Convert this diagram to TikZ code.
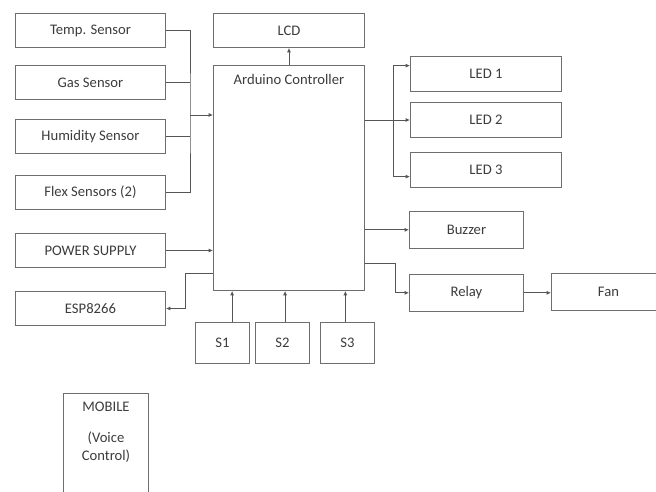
\documentclass[tikz,border=0pt]{standalone}
\usepackage{fontspec}
\setmainfont{Carlito}
\usepackage{xcolor}
\definecolor{cLine}{HTML}{555555}
\definecolor{cBox}{HTML}{6E6E6E}
\definecolor{cText}{HTML}{3C3C3C}
\usepackage{tikz}
\usetikzlibrary{positioning,arrows.meta}
\tikzset{
  box-text/.style={text=cText,font=\fontsize{12.5}{15}\selectfont},
  node-box/.style={draw=cBox,line width=0.8pt,anchor=north west,align=center,
    inner sep=0pt,box-text},
  node-side/.style={node-box,minimum width=4.5cm,minimum height=1.02cm},
  node-led/.style={node-box,minimum width=4.53cm,minimum height=1.05cm},
  node-out/.style={node-box,minimum width=3.42cm,minimum height=1.1cm},
  node-sw/.style={node-box,minimum width=1.62cm,minimum height=1.23cm},
  wire/.style={draw=cLine,line width=0.7pt},
  arrow/.style={wire,-{Latex[length=1.3mm,width=1.2mm]}},
}

\begin{document}
\begin{tikzpicture}[x=0.03cm,y=-0.03cm]
  \useasboundingbox (0,0) rectangle (656,491);
  % inputs
  \node[node-side] (temp) at (15,13) {Temp. Sensor};
  \node[node-side] (gas) at (15,65) {Gas Sensor};
  \node[node-side] (hum) at (15,119) {Humidity Sensor};
  \node[node-side] (flex) at (15,175) {Flex Sensors (2)};
  \node[node-side] (pwr) at (15,233) {POWER SUPPLY};
  \node[node-side] (esp) at (15,291) {ESP8266};
  % controller + display
  \node[node-box,minimum width=4.53cm,minimum height=1.02cm] (lcd) at (213,13) {LCD};
  \node[node-box,minimum width=4.53cm,minimum height=6.75cm,
    label={[anchor=north,yshift=-0.15cm,box-text]north:Arduino Controller}] (ard) at (213,65) {};
  % outputs
  \node[node-led] (led1) at (410,56) {LED 1};
  \node[node-led] (led2) at (410,102) {LED 2};
  \node[node-led] (led3) at (410,152) {LED 3};
  \node[node-out] (buz) at (409,211) {Buzzer};
  \node[node-out] (rel) at (409,274) {Relay};
  \node[node-out] (fan) at (551,273) {Fan};
  % switches
  \node[node-sw] (s1) at (195,322) {S1};
  \node[node-sw,right=0.15cm of s1] (s2) {S2};
  \node[node-sw,right=0.3cm of s2] (s3) {S3};
  % phone app
  \node[node-box,minimum width=2.55cm,minimum height=3.3cm,
    label={[anchor=north,yshift=-0.15cm,align=center,box-text]north:MOBILE\\[0.4cm](Voice\\Control)}] (mob) at (63,393) {};

  % sensor bus
  \coordinate (sbus) at (190,115);
  \draw[wire] (temp.east) -| (sbus) |- (flex.east);
  \draw[wire] (gas.east) -- (gas.east -| sbus);
  \draw[wire] (hum.east) -- (hum.east -| sbus);
  \draw[arrow] (sbus) -- (sbus -| ard.west);
  \draw[arrow] (pwr.east) -- (pwr.east -| ard.west);
  \coordinate (espout) at (ard.west |- 0,273);
  \draw[arrow] (espout) -- ++(-28,0) |- (esp.east);
  \draw[arrow] (ard.north) -- (lcd.south);

  % led bus
  \coordinate (lbus) at (393,120);
  \draw[wire] (lbus -| ard.east) -- (lbus);
  \draw[arrow] (lbus) -- (lbus -| led2.west);
  \draw[arrow] (lbus) |- ([yshift=0.25cm]led1.west);
  \draw[arrow] (lbus) |- ([yshift=-0.2cm]led3.west);
  \draw[arrow] (buz.west -| ard.east) -- (buz.west);
  \coordinate (relout) at (ard.east |- 0,263);
  \draw[arrow] (relout) -- ++(30,0) |- (rel.west);
  \draw[arrow] (rel.east) -- (rel.east -| fan.west);

  % switches into controller
  \draw[arrow] ([xshift=0.29cm]s1.north) -- ([xshift=0.29cm]s1.north |- ard.south);
  \draw[arrow] ([xshift=0.08cm]s2.north) -- ([xshift=0.08cm]s2.north |- ard.south);
  \draw[arrow] ([xshift=-0.06cm]s3.north) -- ([xshift=-0.06cm]s3.north |- ard.south);
\end{tikzpicture}
\end{document}
